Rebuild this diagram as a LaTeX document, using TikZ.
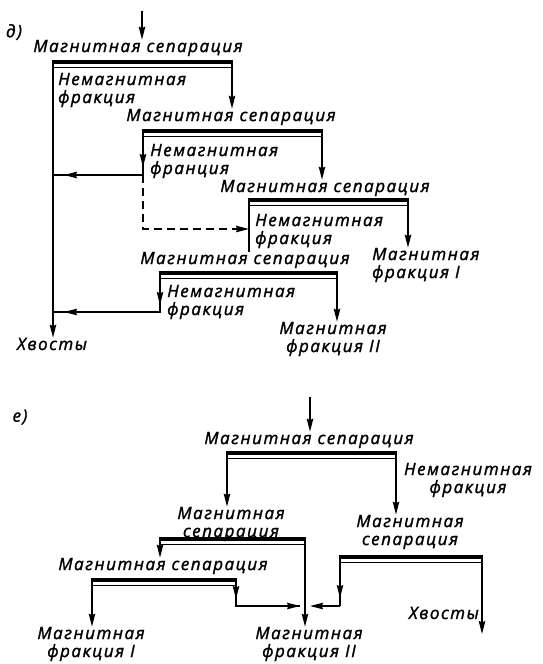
\documentclass[tikz,border=0pt]{standalone}
\usepackage{fontspec}
\newfontfamily\lab{Open Sans}[LetterSpace=9, FakeBold=1.5]
\usetikzlibrary{arrows.meta}
\begin{document}
\begin{tikzpicture}[x=1pt,y=-1pt,
  txt/.style={font=\lab\itshape\fontsize{17}{18}\selectfont, inner sep=0pt, anchor=center},
  ltxt/.style={txt, align=left, anchor=west},
  ctxt/.style={txt, align=center},
  flow/.style={line width=1.5pt},
  arr/.style={flow, -{Stealth[length=13pt,width=6.5pt,inset=1.5pt]}},
  darr/.style={arr, dash pattern=on 8pt off 5pt},
  barthick/.style={line width=3.6pt},
  barthin/.style={line width=0.8pt},
]
\useasboundingbox (0,0) rectangle (543,664);

% separation bar: thick stroke with a thin stroke under it
\newcommand\sepbar[4]{%
  \coordinate (#1l) at (#2,#4);
  \coordinate (#1r) at (#3,#4);
  \draw[barthick] ([xshift=-0.75pt]#1l) -- ([xshift=0.75pt]#1r);
  \draw[barthin] ([yshift=-5pt]#1l) -- ([yshift=-5pt]#1r);
}

% ---------------- scheme d ----------------
\node[txt] (lbd) at (14,32) {д)};
\coordinate (ind) at (142,11);
\node[txt] (h1) at (138,48) {Магнитная сепарация};
\draw[arr] (ind) -- (ind |- h1.north);
\sepbar{b1}{53}{232}{62}
\node[ltxt] (n1) at (58,90) {Немагнитная\\фракция};

\node[txt] (h2) at (231,117) {Магнитная сепарация};
\draw[arr] (b1r) -- (b1r |- h2.north);
\sepbar{b2}{143}{322}{131}
\node[ltxt] (n2) at (150,161) {Немагнитная\\франция};

\node[txt] (h3) at (325,188) {Магнитная сепарация};
\draw[arr] (b2r) -- (b2r |- h3.north);
\sepbar{b3}{249}{408}{200}
\node[ltxt] (n3) at (255,231) {Немагнитная\\фракция};

\node[txt] (h4) at (245,260) {Магнитная сепарация};
\sepbar{b4}{160}{337}{273}
\node[ltxt] (n4) at (167,302) {Немагнитная\\фракция};

\node[ltxt] (m1) at (372,265) {Магнитная\\фракция I};
\draw[arr] (b3r) -- (b3r |- m1.north);
\node[ctxt] (m2) at (333,339) {Магнитная\\фракция II};
\draw[arr] (b4r) -- (b4r |- m2.north);
\node[txt] (t1) at (52,344) {Хвосты};

% tailings collector
\draw[arr] (b1l) -- (b1l |- t1.north);
\coordinate (j1) at (143,175);
\coordinate (j2) at (160,312);
\draw[flow] (b2l) -- (j1) -- (j1 -| b1l);
\draw[arr] (b2l) -- ([yshift=8pt]j1);
\draw[arr] (j1) -- ([xshift=11pt]j1 -| b1l);
\draw[flow] (b4l) -- (j2) -- (j2 -| b1l);
\draw[arr] (b4l) -- ([yshift=7pt]j2);
\draw[arr] (j2) -- ([xshift=11pt]j2 -| b1l);
% optional recycle to the third stage
\coordinate (d1) at (143,229);
\draw[darr] (j1) -- (d1) -- (d1 -| b3l);
\draw[flow] (b3l) -- (b3l |- h4.north);

% ---------------- scheme e ----------------
\node[txt] (lbe) at (20,417) {е)};
\coordinate (ine) at (310,397);
\node[txt] (h5) at (309,440) {Магнитная сепарация};
\draw[arr] (ine) -- (ine |- h5.north);
\sepbar{b5}{227}{396}{453}
\node[ctxt] (n5) at (468,480) {Немагнитная\\фракция};

\node[ctxt] (h6) at (231,524) {Магнитная\\сепарация};
\node[ctxt] (h7) at (410,532) {Магнитная\\сепарация};
\draw[arr] (b5l) -- (b5l |- h6.north);
\draw[arr] (b5r) -- (b5r |- h7.north);
\sepbar{b6}{160}{305}{539}
\sepbar{b7}{340}{482}{557}

\node[txt] (h8) at (163,566) {Магнитная сепарация};
\draw[arr] (b6l) -- (b6l |- h8.north);
\sepbar{b8}{92}{236}{580}

\node[ctxt] (m3) at (91,644) {Магнитная\\фракция I};
\node[ctxt] (m4) at (309,644) {Магнитная\\фракция II};
\node[txt, anchor=east] (t2) at (479,613) {Хвосты};
\coordinate (e7) at (482,634);

\draw[arr] (b8l) -- (b8l |- m3.north);
\draw[arr] (b6r) -- (b6r |- m4.north);
\draw[arr] (b7r) -- (e7);

\coordinate (j3) at (236,606);
\coordinate (j4) at (340,606);
\coordinate (c1) at (305,606);
\draw[flow] (b8r) -- (j3) -- ([xshift=-5pt]c1);
\draw[arr] (b8r) -- ([yshift=7pt]j3);
\draw[arr] (j3) -- ([xshift=-5pt]c1);
\draw[flow] (b7l) -- (j4);
\draw[arr] (b7l) -- ([yshift=8pt]j4);
\draw[arr] (j4) -- ([xshift=5pt]c1);
\end{tikzpicture}
\end{document}
